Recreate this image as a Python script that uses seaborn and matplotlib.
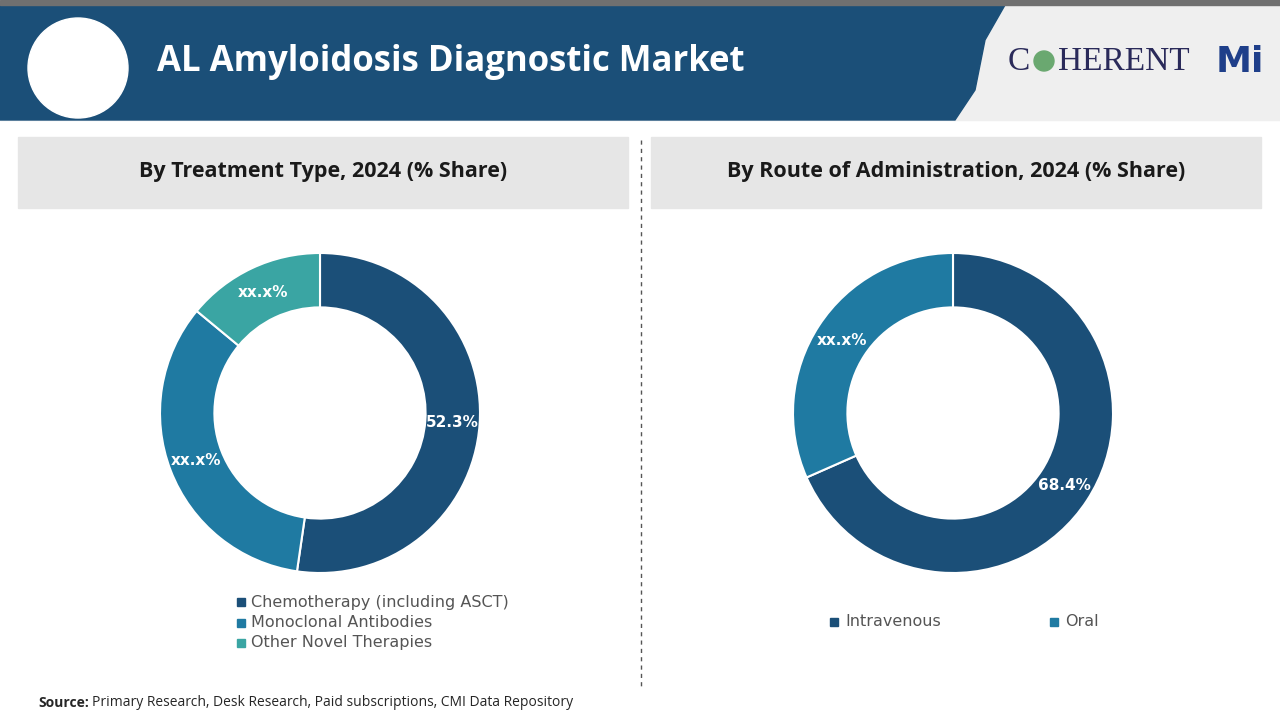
import matplotlib
matplotlib.use("Agg")
import matplotlib.pyplot as plt
import matplotlib.patches as mpatches
import seaborn as sns

sns.set_style("white")

# data
treatment_labels = ["Chemotherapy (including ASCT)", "Monoclonal Antibodies", "Other Novel Therapies"]
treatment_share = [52.3, 33.7, 14.0]
treatment_text = ["52.3%", "xx.x%", "xx.x%"]
route_labels = ["Intravenous", "Oral"]
route_share = [68.4, 31.6]
route_text = ["68.4%", "xx.x%"]

dark = "#1b4f78"
mid = "#1f7aa2"
teal = "#3aa5a3"
treatment_colors = [dark, mid, teal]
route_colors = [dark, mid]

W, H = 1280, 720
fig = plt.figure(figsize=(12.8, 7.2), dpi=100)
bg = fig.add_axes([0, 0, 1, 1])
bg.set_xlim(0, W)
bg.set_ylim(H, 0)
bg.axis("off")

# header
bg.add_patch(mpatches.Rectangle((0, 0), W, 120, color="#efefef", zorder=0))
bg.add_patch(mpatches.Polygon([(0, 5), (1005, 5), (985, 40), (975, 90), (955, 120), (0, 120)],
                              closed=True, color="#1b4f78", zorder=1))
bg.add_patch(mpatches.Rectangle((0, 0), W, 5, color="#707070", zorder=2))
bg.add_patch(mpatches.Circle((78, 68), 50, color="white", zorder=3))
bg.text(157, 62, "AL Amyloidosis Diagnostic Market", color="white", fontsize=25,
        fontweight="bold", va="center", ha="left", family="Open Sans", zorder=4)
bg.text(1008, 62, "C", color="#2a2a5a", fontsize=24, va="center", family="Liberation Serif", zorder=4)
bg.add_patch(mpatches.Circle((1044, 61), 10, color="#6aa870", zorder=4))
bg.text(1058, 62, "HERENT", color="#2a2a5a", fontsize=24, va="center", family="Liberation Serif", zorder=4)
bg.text(1216, 62, "Mi", color="#1f3f8a", fontsize=26, va="center", fontweight="bold", zorder=4)

# panel titles
for x0, title in [(18, "By Treatment Type, 2024 (% Share)"), (651, "By Route of Administration, 2024 (% Share)")]:
    bg.add_patch(mpatches.Rectangle((x0, 137), 610, 71, color="#e6e6e6", zorder=0))
    bg.text(x0 + 305, 172, title, ha="center", va="center", fontsize=15.5, fontweight="bold",
            color="#1a1a1a", family="Open Sans")
bg.plot([641, 641], [140, 690], ls=(0, (3, 3)), color="#555555", lw=1)

bg.text(38, 703, "Source:", fontsize=10, fontweight="bold", va="center", family="Open Sans")
bg.text(92, 703, "Primary Research, Desk Research, Paid subscriptions, CMI Data Repository",
        fontsize=10, va="center", family="Open Sans")


def donut(cx, cy, values, colors, texts):
    r = 160
    ax = fig.add_axes([(cx - r) / W, 1 - (cy + r) / H, 2 * r / W, 2 * r / H])
    wedges, _, autotexts = ax.pie(values, colors=colors, startangle=90, counterclock=False,
                                  radius=1, wedgeprops=dict(width=0.34, edgecolor="white", linewidth=1.5),
                                  autopct="%1.1f%%", pctdistance=0.83)
    for t, s in zip(autotexts, texts):
        t.set_text(s)
        t.set_color("white")
        t.set_fontsize(11)
        t.set_fontweight("bold")
    ax.set_xlim(-1, 1)
    ax.set_ylim(-1, 1)
    ax.set_aspect("equal")
    return ax


donut(320, 413, treatment_share, treatment_colors, treatment_text)
donut(953, 413, route_share, route_colors, route_text)

# legends
for i, (lab, c) in enumerate(zip(treatment_labels, treatment_colors)):
    y = 602 + i * 20.5
    bg.add_patch(mpatches.Rectangle((237, y - 4), 8, 8, color=c))
    bg.text(251, y, lab, fontsize=11.5, color="#555555", va="center")
for x, lab, c in zip([830, 1050], route_labels, route_colors):
    bg.add_patch(mpatches.Rectangle((x, 618), 8, 8, color=c))
    bg.text(x + 15, 622, lab, fontsize=11.5, color="#555555", va="center")

fig.savefig("out.png", dpi=100)
